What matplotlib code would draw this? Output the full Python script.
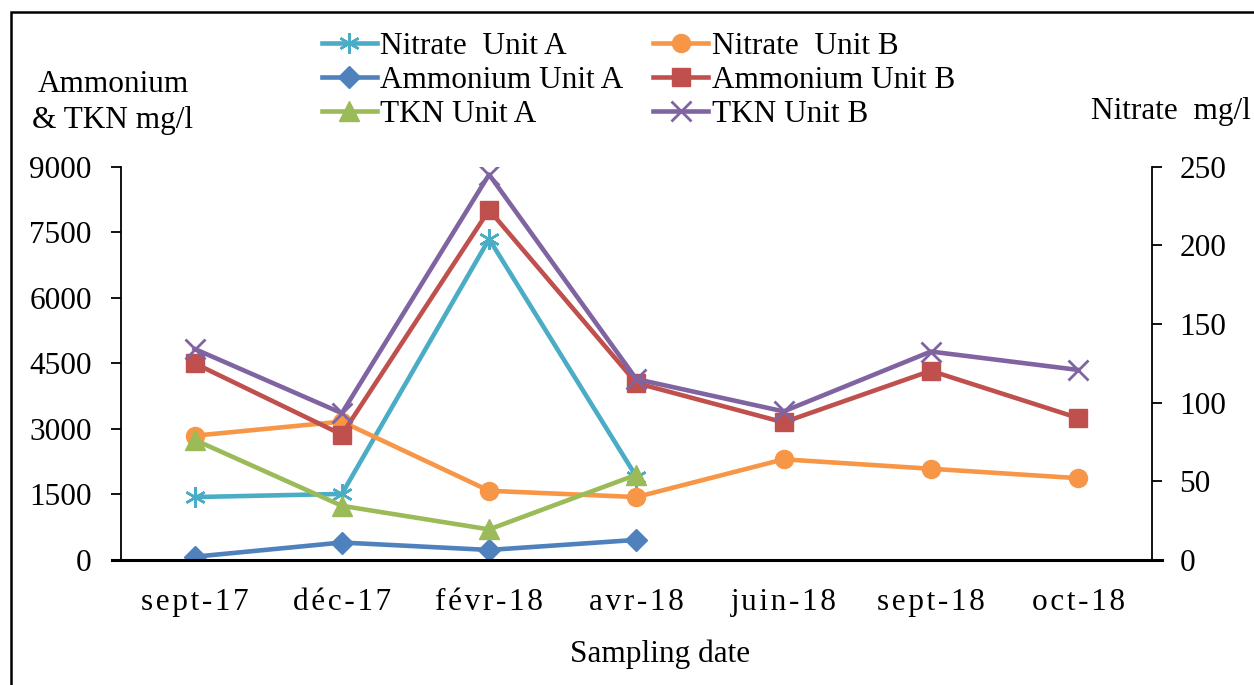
import matplotlib
matplotlib.use("Agg")
import matplotlib.pyplot as plt
from matplotlib.patches import Rectangle

plt.rcParams['font.family'] = ['Liberation Serif', 'DejaVu Serif']

categories = ['sept-17', 'déc-17', 'févr-18', 'avr-18', 'juin-18', 'sept-18', 'oct-18']
nitrate_a = [40, 42, 204, 53]
nitrate_b = [79, 88, 44, 40, 64, 58, 52]
ammonium_a = [75, 400, 230, 460]
ammonium_b = [4500, 2870, 8010, 4050, 3150, 4330, 3250]
tkn_a = [2750, 1240, 700, 1950]
tkn_b = [4830, 3360, 8820, 4140, 3400, 4770, 4350]
left_ticks = [0, 1500, 3000, 4500, 6000, 7500, 9000]
right_ticks = [0, 50, 100, 150, 200, 250]

W, H = 1254, 685
fig = plt.figure(figsize=(W / 100, H / 100), dpi=100)
ax = fig.add_axes([121 / W, 1 - 560 / H, (1151.7 - 121) / W, (560 - 166.7) / H])
ax2 = ax.twinx()
ax.set_zorder(3)
ax.patch.set_visible(False)

FS = 22.5
lw = 3.3
x_all = list(range(len(categories)))

h_na, = ax2.plot(x_all[:len(nitrate_a)], nitrate_a, color='#4BACC6', lw=lw, marker=(6, 2, 0), ms=15, mew=1.8, label='Nitrate  Unit A')
h_nb, = ax2.plot(x_all[:len(nitrate_b)], nitrate_b, color='#F79646', lw=lw, marker='o', ms=13, label='Nitrate  Unit B')
h_aa, = ax.plot(x_all[:len(ammonium_a)], ammonium_a, color='#4F81BD', lw=lw, marker='D', ms=11.5, label='Ammonium Unit A')
h_ab, = ax.plot(x_all[:len(ammonium_b)], ammonium_b, color='#C0504D', lw=lw, marker='s', ms=13, label='Ammonium Unit B')
h_ta, = ax.plot(x_all[:len(tkn_a)], tkn_a, color='#9BBB59', lw=lw, marker='^', ms=14, label='TKN Unit A')
h_tb, = ax.plot(x_all[:len(tkn_b)], tkn_b, color='#8064A2', lw=lw, marker='x', ms=14, mew=2, label='TKN Unit B')

ax.set_xlim(-0.5, len(categories) - 0.5)
ax.set_ylim(0, 9000)
ax2.set_ylim(0, 250)
ax.set_yticks(left_ticks)
ax2.set_yticks(right_ticks)
ax.set_xticks(x_all)
ax.set_xticklabels(['\u200a'.join(c) for c in categories])

for a in (ax, ax2):
    a.spines['top'].set_visible(False)
    a.spines['bottom'].set_visible(False)
    a.spines['left'].set_linewidth(1.3)
    a.spines['right'].set_linewidth(1.3)
ax.spines['right'].set_visible(False)
ax2.spines['left'].set_visible(False)

ax.tick_params(axis='y', direction='out', length=7, width=1.3, pad=14, labelsize=FS)
ax2.tick_params(axis='y', direction='out', length=7, width=1.3, pad=13, labelsize=FS)
ax.tick_params(axis='x', length=0, pad=20, labelsize=FS)

# bottom axis line spanning tick marks
ax.axhline(0, xmin=-9 / 1030.7, xmax=1 + 10 / 1030.7, color='black', lw=2.2, clip_on=False, zorder=5)

leg = fig.legend(handles=[h_na, h_aa, h_ta, h_nb, h_ab, h_tb], ncol=2, loc='upper left',
                 bbox_to_anchor=(322 / W, 1 - 32 / H), frameon=False, fontsize=FS,
                 handlelength=1.75, handletextpad=0.12, columnspacing=0.95,
                 labelspacing=0.16, borderpad=0, borderaxespad=0)

fig.text(113 / W, 1 - 92 / H, 'Ammonium', ha='center', va='baseline', fontsize=FS)
fig.text(113 / W, 1 - 128 / H, '& TKN mg/l', ha='center', va='baseline', fontsize=FS)
fig.text(1251 / W, 1 - 119 / H, 'Nitrate  mg/l', ha='right', va='baseline', fontsize=FS)
fig.text(660 / W, 1 - 662 / H, 'Sampling date', ha='center', va='baseline', fontsize=FS)

fig.add_artist(Rectangle((11 / W, -0.1), 2, 1 - 12 / H + 0.1, fill=False, lw=1.8,
                         edgecolor='black', transform=fig.transFigure))

fig.savefig('out.png', dpi=100)
